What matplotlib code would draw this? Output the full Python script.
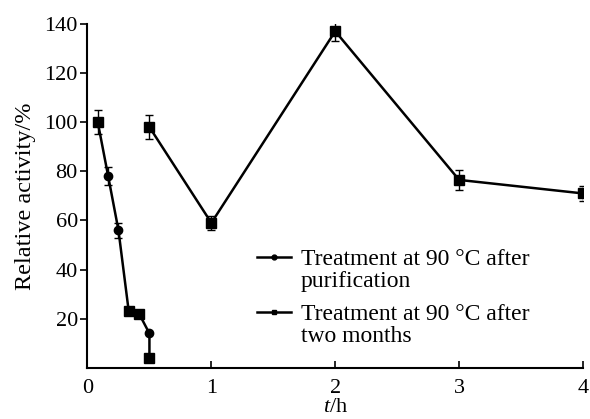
import numpy as np
import matplotlib.pyplot as plt
from matplotlib.lines import Line2D

plt.rcParams['font.family'] = ['Liberation Serif', 'DejaVu Serif']
plt.rcParams['mathtext.fontset'] = 'custom'
plt.rcParams['mathtext.it'] = 'Liberation Serif:italic'
plt.rcParams['mathtext.rm'] = 'Liberation Serif'

# after purification (time in h)
t_pur = [0.083, 0.167, 0.25, 0.333, 0.417, 0.5, 0.5]
act_pur = [100, 78, 56, 23, 22, 14, 4]
err_pur = [5, 3.7, 3, 0, 0, 0, 0]
mk_pur = ['s', 'o', 'o', 's', 's', 'o', 's']

# after two months
t_mon = [0.5, 1, 2, 3, 4]
act_mon = [98, 59, 137, 76.5, 71]
err_mon = [5, 3, 4, 4, 3]

xticks = [0, 1, 2, 3, 4]
yticks = [20, 40, 60, 80, 100, 120, 140]

FS = 16

fig = plt.figure(figsize=(5.9, 4.19), dpi=100)
ax = fig.add_axes([0.1483, 0.122, 0.8398, 0.821])

# series 1
ax.errorbar(t_pur, act_pur, yerr=err_pur, color='black', lw=1.8,
            elinewidth=1, capsize=3, capthick=1, zorder=2)
for t, a, m in zip(t_pur, act_pur, mk_pur):
    ax.plot(t, a, marker=m, color='black', ms=6.5 if m == 's' else 6, zorder=3)

# series 2
ax.errorbar(t_mon, act_mon, yerr=err_mon, color='black', lw=1.8,
            marker='s', ms=6.5, elinewidth=1, capsize=3, capthick=1, zorder=2)

ax.set_xlim(0, 4)
ax.set_ylim(0, 140)
ax.set_xticks(xticks)
ax.set_yticks(yticks)
ax.tick_params(axis='x', direction='in', length=5, width=1.2, labelsize=FS, pad=8)
ax.tick_params(axis='y', direction='out', length=5, width=1.2, labelsize=FS, pad=2)
ax.spines['top'].set_visible(False)
ax.spines['right'].set_visible(False)
ax.spines['left'].set_linewidth(1.5)
ax.spines['bottom'].set_linewidth(1.5)

ax.set_ylabel('Relative activity/%', fontsize=17.5, labelpad=6)
ax.set_xlabel('$t$/h', fontsize=FS, labelpad=0)

leg_kw = dict(loc='upper left', frameon=False, fontsize=FS + 1,
              handlelength=1.45, handletextpad=0.4, labelspacing=0.0,
              borderpad=0, borderaxespad=0)
blank = Line2D([], [], color='none')
h1 = Line2D([], [], color='black', lw=1.8, marker='o', ms=3.5)
h2 = Line2D([], [], color='black', lw=1.8, marker='s', ms=3.5)

leg1 = ax.legend([h1, blank], ['Treatment at 90 °C after', 'purification'],
                 bbox_to_anchor=(0.342, 0.346), **leg_kw)
ax.add_artist(leg1)
ax.legend([h2, blank], ['Treatment at 90 °C after', 'two months'],
          bbox_to_anchor=(0.342, 0.186), **leg_kw)

fig.savefig('out.png', dpi=100, facecolor='white')
